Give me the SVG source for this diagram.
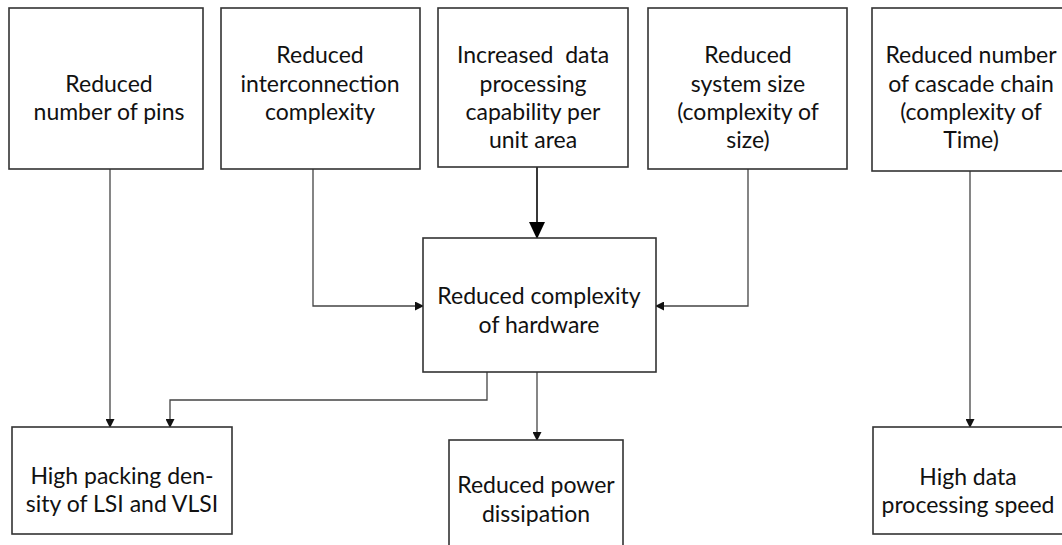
<svg xmlns="http://www.w3.org/2000/svg" width="1062" height="545" viewBox="0 0 1062 545">
  <style>
    .box { fill: #ffffff; stroke: #333333; stroke-width: 1.6; }
    .lbl { font-family: Lato, "Liberation Sans", sans-serif; font-size: 23px; fill: #111111; text-anchor: middle; }
    .wire { fill: none; stroke: #444444; stroke-width: 1.3; }
    .wire-bold { fill: none; stroke: #222222; stroke-width: 1.8; }
  </style>
  <defs>
    <marker id="arr" markerWidth="9" markerHeight="9" refX="8" refY="4.5" orient="auto" markerUnits="userSpaceOnUse">
      <path d="M0,0 L9,4.5 L0,9 Z" fill="#111111"/>
    </marker>
    <marker id="arr-big" markerWidth="17" markerHeight="16" refX="16" refY="8" orient="auto" markerUnits="userSpaceOnUse">
      <path d="M0,0 L17,8 L0,16 Z" fill="#000000"/>
    </marker>
  </defs>
  <rect width="1062" height="545" fill="#ffffff"/>

  <!-- connectors -->
  <g id="connectors">
    <path class="wire" d="M110,169 V427" marker-end="url(#arr)"/>
    <path class="wire" d="M313,169 V306 H423" marker-end="url(#arr)"/>
    <path class="wire-bold" d="M537,167 V238" marker-end="url(#arr-big)"/>
    <path class="wire" d="M748,169 V306 H656" marker-end="url(#arr)"/>
    <path class="wire" d="M487,372 V400 H170 V427" marker-end="url(#arr)"/>
    <path class="wire" d="M537,372 V440" marker-end="url(#arr)"/>
    <path class="wire" d="M970,171 V427" marker-end="url(#arr)"/>
  </g>

  <!-- top row -->
  <g id="pins">
    <rect class="box" x="9" y="8" width="194" height="161"/>
    <text class="lbl" x="109" y="92">Reduced</text>
    <text class="lbl" x="109" y="120">number of pins</text>
  </g>
  <g id="interconnect">
    <rect class="box" x="221" y="8" width="199" height="161"/>
    <text class="lbl" x="320" y="63">Reduced</text>
    <text class="lbl" x="320" y="92">interconnection</text>
    <text class="lbl" x="320" y="120">complexity</text>
  </g>
  <g id="capability">
    <rect class="box" x="438" y="8" width="190" height="159"/>
    <text class="lbl" x="533" y="63" xml:space="preserve">Increased  data</text>
    <text class="lbl" x="533" y="92">processing</text>
    <text class="lbl" x="533" y="120">capability per</text>
    <text class="lbl" x="533" y="148">unit area</text>
  </g>
  <g id="system-size">
    <rect class="box" x="648" y="8" width="199" height="161"/>
    <text class="lbl" x="748" y="63">Reduced</text>
    <text class="lbl" x="748" y="92">system size</text>
    <text class="lbl" x="748" y="120">(complexity of</text>
    <text class="lbl" x="748" y="148">size)</text>
  </g>
  <g id="cascade">
    <rect class="box" x="872" y="8" width="200" height="163"/>
    <text class="lbl" x="971" y="63">Reduced number</text>
    <text class="lbl" x="971" y="92">of cascade chain</text>
    <text class="lbl" x="971" y="120">(complexity of</text>
    <text class="lbl" x="971" y="148">Time)</text>
  </g>

  <!-- middle -->
  <g id="hardware">
    <rect class="box" x="423" y="238" width="233" height="134"/>
    <text class="lbl" x="539" y="304">Reduced complexity</text>
    <text class="lbl" x="539" y="333">of hardware</text>
  </g>

  <!-- bottom row -->
  <g id="packing">
    <rect class="box" x="12" y="427" width="220" height="107"/>
    <text class="lbl" x="122" y="484">High packing den-</text>
    <text class="lbl" x="122" y="512">sity of LSI and VLSI</text>
  </g>
  <g id="power">
    <rect class="box" x="449" y="440" width="174" height="120"/>
    <text class="lbl" x="536" y="493">Reduced power</text>
    <text class="lbl" x="536" y="522">dissipation</text>
  </g>
  <g id="speed">
    <rect class="box" x="873" y="427" width="200" height="107"/>
    <text class="lbl" x="968" y="485">High data</text>
    <text class="lbl" x="968" y="513">processing speed</text>
  </g>
</svg>
